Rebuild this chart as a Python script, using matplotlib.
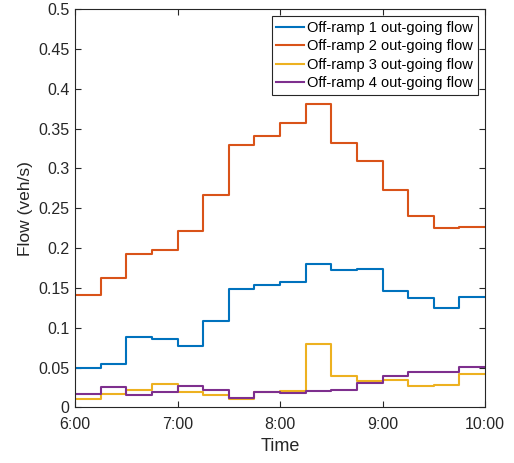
import numpy as np
import matplotlib
matplotlib.use("Agg")
import matplotlib.pyplot as plt

plt.rcParams["font.family"] = ["Liberation Sans", "DejaVu Sans"]

# 15-minute flow averages, 6:00-10:00
offramp1 = [0.049, 0.054, 0.089, 0.086, 0.077, 0.108, 0.148, 0.154,
            0.157, 0.180, 0.172, 0.174, 0.146, 0.137, 0.125, 0.139]
offramp2 = [0.141, 0.163, 0.192, 0.198, 0.222, 0.267, 0.329, 0.341,
            0.357, 0.381, 0.332, 0.309, 0.273, 0.240, 0.225, 0.227]
offramp3 = [0.010, 0.017, 0.022, 0.030, 0.019, 0.015, 0.010, 0.020,
            0.021, 0.080, 0.039, 0.033, 0.035, 0.027, 0.028, 0.042]
offramp4 = [0.017, 0.026, 0.015, 0.020, 0.027, 0.022, 0.012, 0.019,
            0.018, 0.021, 0.022, 0.031, 0.039, 0.045, 0.044, 0.051]
labels = ["Off-ramp 1 out-going flow", "Off-ramp 2 out-going flow",
          "Off-ramp 3 out-going flow", "Off-ramp 4 out-going flow"]
tick_labels = ["6:00", "7:00", "8:00", "9:00", "10:00"]

colors = ["#0072BD", "#D95319", "#EDB120", "#7E2F8E"]
t = 6 + 0.25 * np.arange(len(offramp1) + 1)

fig = plt.figure(figsize=(5.14, 4.63), dpi=100)
ax = fig.add_axes([0.146, 0.12, 0.7976, 0.8606])

for series, c, lab in zip([offramp1, offramp2, offramp3, offramp4], colors, labels):
    y = np.append(series, series[-1])
    ax.step(t, y, where="post", color=c, lw=1.5, label=lab)

ax.set_xlim(6, 10)
ax.set_ylim(0, 0.5)
ax.set_xticks([6, 7, 8, 9, 10])
ax.set_xticklabels(tick_labels)
ax.set_yticks(np.arange(0, 0.51, 0.05))
ax.set_yticklabels(["0", "0.05", "0.1", "0.15", "0.2", "0.25", "0.3",
                    "0.35", "0.4", "0.45", "0.5"])
ax.tick_params(direction="in", top=True, right=True, labelsize=11.5,
               colors="#262626", length=4, width=0.8)
ax.tick_params(axis="x", pad=7)
ax.tick_params(axis="y", pad=4)
for s in ax.spines.values():
    s.set_color("#262626")
    s.set_linewidth(0.8)
ax.set_xlabel("Time", fontsize=13, color="#262626", labelpad=4)
ax.set_ylabel("Flow (veh/s)", fontsize=12.5, color="#262626", labelpad=4)

leg = ax.legend(loc="upper right", fontsize=10.5, handlelength=1.9,
                handletextpad=0.2, borderpad=0.33, labelspacing=0.3,
                borderaxespad=0.5, fancybox=False, framealpha=1)
leg.get_frame().set_edgecolor("#262626")
leg.get_frame().set_linewidth(0.8)

fig.savefig("out.png", dpi=100)
